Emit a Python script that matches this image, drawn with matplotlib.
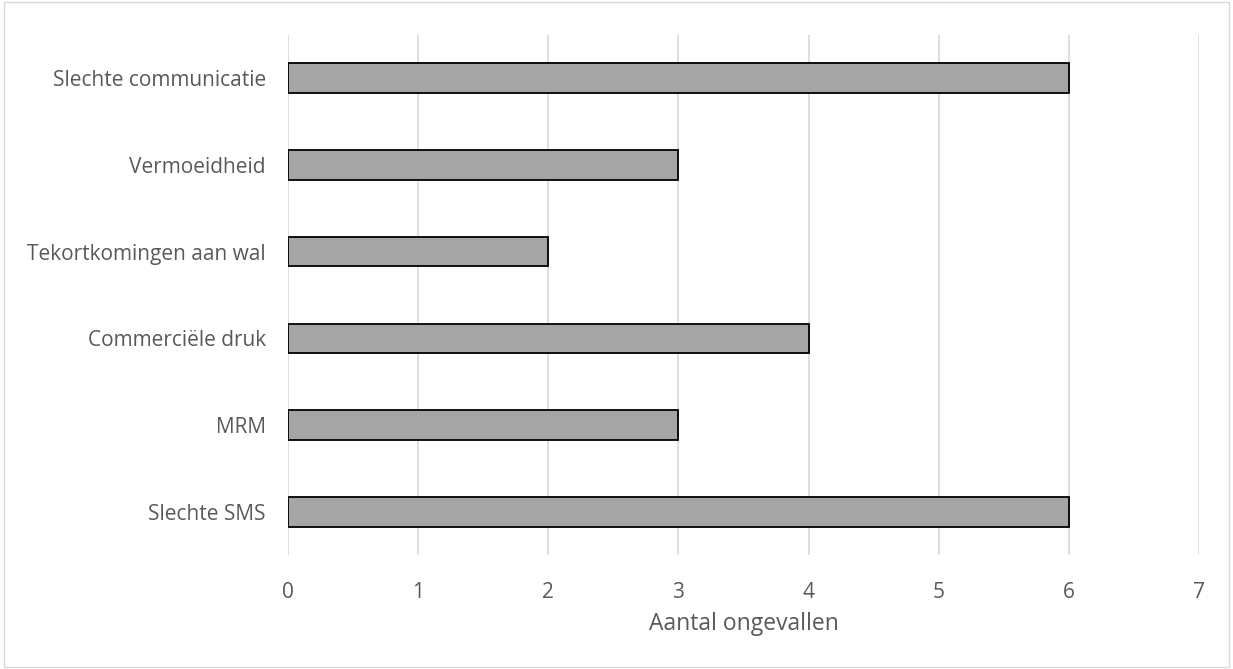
import matplotlib.pyplot as plt
import numpy as np

plt.rcParams['font.family'] = ['Open Sans', 'DejaVu Sans']

oorzaken = ['Slechte communicatie', 'Vermoeidheid', 'Tekortkomingen aan wal',
            'Commerciële druk', 'MRM', 'Slechte SMS']
aantal = [6, 3, 2, 4, 3, 6]
xticks = [0, 1, 2, 3, 4, 5, 6, 7]

fig = plt.figure(figsize=(12.33, 6.69), dpi=100)
ax = fig.add_axes([0.2336, 0.170, 0.7388, 0.778])

y = np.arange(len(oorzaken))[::-1]
ax.barh(y, aantal, height=0.34, color='#A5A5A5', edgecolor='black', linewidth=1.3, zorder=3)

ax.set_xlim(0, 7)
ax.set_ylim(-0.5, len(oorzaken) - 0.5)
ax.set_xticks(xticks)
ax.set_yticks(y)
ax.set_yticklabels(oorzaken)
ax.grid(axis='x', color='#D9D9D9', linewidth=1.2, zorder=0)
for s in ax.spines.values():
    s.set_visible(False)
ax.tick_params(length=0, labelsize=15, colors='#595959')
ax.tick_params(axis='x', pad=19)
ax.tick_params(axis='y', pad=16)
ax.set_xlabel('Aantal ongevallen', fontsize=16.5, color='#595959', labelpad=7)

# rand om de figuur
fig.patches.append(plt.Rectangle((0.003, 0.003), 0.994, 0.994, transform=fig.transFigure,
                                 fill=False, edgecolor='#D9D9D9', linewidth=1))

fig.savefig('out.png', dpi=100)
